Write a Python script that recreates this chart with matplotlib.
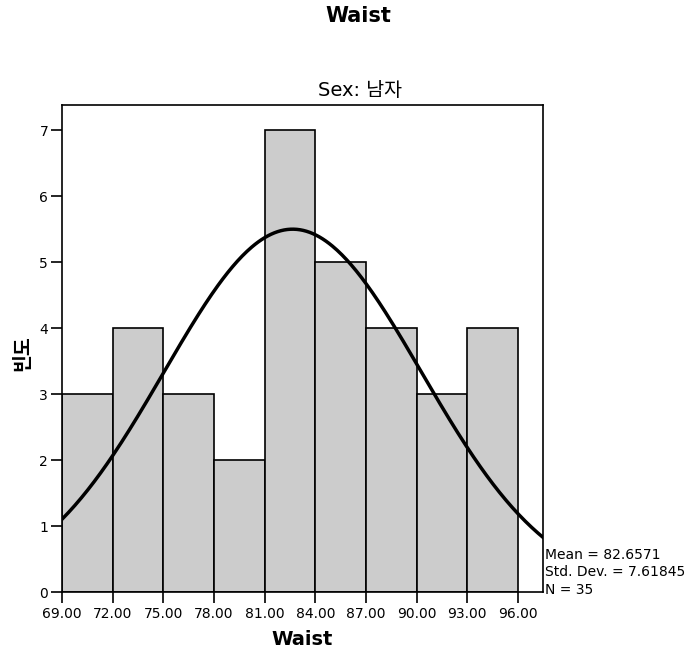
import numpy as np
import matplotlib
matplotlib.use("Agg")
import matplotlib.pyplot as plt

plt.rcParams['font.family'] = ['DejaVu Sans', 'Noto Sans CJK KR']

# histogram data (bin edges, counts)
bin_edges = [69, 72, 75, 78, 81, 84, 87, 90, 93, 96]
counts = [3, 4, 3, 2, 7, 5, 4, 3, 4]
mean = 82.6571
std = 7.61845
n = 35
tick_values = [69, 72, 75, 78, 81, 84, 87, 90, 93, 96]

fig = plt.figure(figsize=(7, 6.58), dpi=100)
ax = fig.add_axes([0.0886, 0.1003, 0.6871, 0.7401])

widths = np.diff(bin_edges)
ax.bar(bin_edges[:-1], counts, width=widths, align='edge',
       color='#cccccc', edgecolor='black', linewidth=1.2, zorder=2)

# normal curve scaled to counts
xs = np.linspace(69, 97.48, 300)
ys = n * 3 / (std * np.sqrt(2 * np.pi)) * np.exp(-0.5 * ((xs - mean) / std) ** 2)
ax.plot(xs, ys, color='black', linewidth=2.5, zorder=3)

ax.set_xlim(69, 97.48)
ax.set_ylim(0, 7.38)
ax.set_xticks(tick_values)
ax.set_xticklabels(['%.2f' % v for v in tick_values], fontsize=10)
ax.set_yticks(range(0, 8))
ax.tick_params(axis='y', labelsize=10, length=8, width=1.2, pad=2, direction='out')
ax.tick_params(axis='x', length=8, width=1.2, pad=3, direction='out')
for s in ax.spines.values():
    s.set_linewidth(1.2)

ax.set_xlabel('Waist', fontsize=14, fontweight='bold', va='top')
ax.xaxis.set_label_coords(0.5, -0.077)
ax.set_ylabel('빈도', fontsize=14, fontweight='bold',
              family=['Noto Sans CJK KR', 'DejaVu Sans'])
ax.yaxis.set_label_coords(-0.062, 0.49)

fig.text(358 / 700, 1 - 15.5 / 658, 'Waist', ha='center', va='center',
         fontsize=15, fontweight='bold')
fig.text(360 / 700, 1 - 90 / 658, 'Sex: 남자', ha='center', va='center', fontsize=14,
         family=['DejaVu Sans', 'Noto Sans CJK KR'])

stats = ['Mean = %.4f' % mean, 'Std. Dev. = %.5f' % std, 'N = %d' % n]
for i, line in enumerate(stats):
    fig.text(545 / 700, 1 - (555 + 17.5 * i) / 658, line, ha='left', va='center',
             fontsize=10)

fig.savefig('out.png', dpi=100)
